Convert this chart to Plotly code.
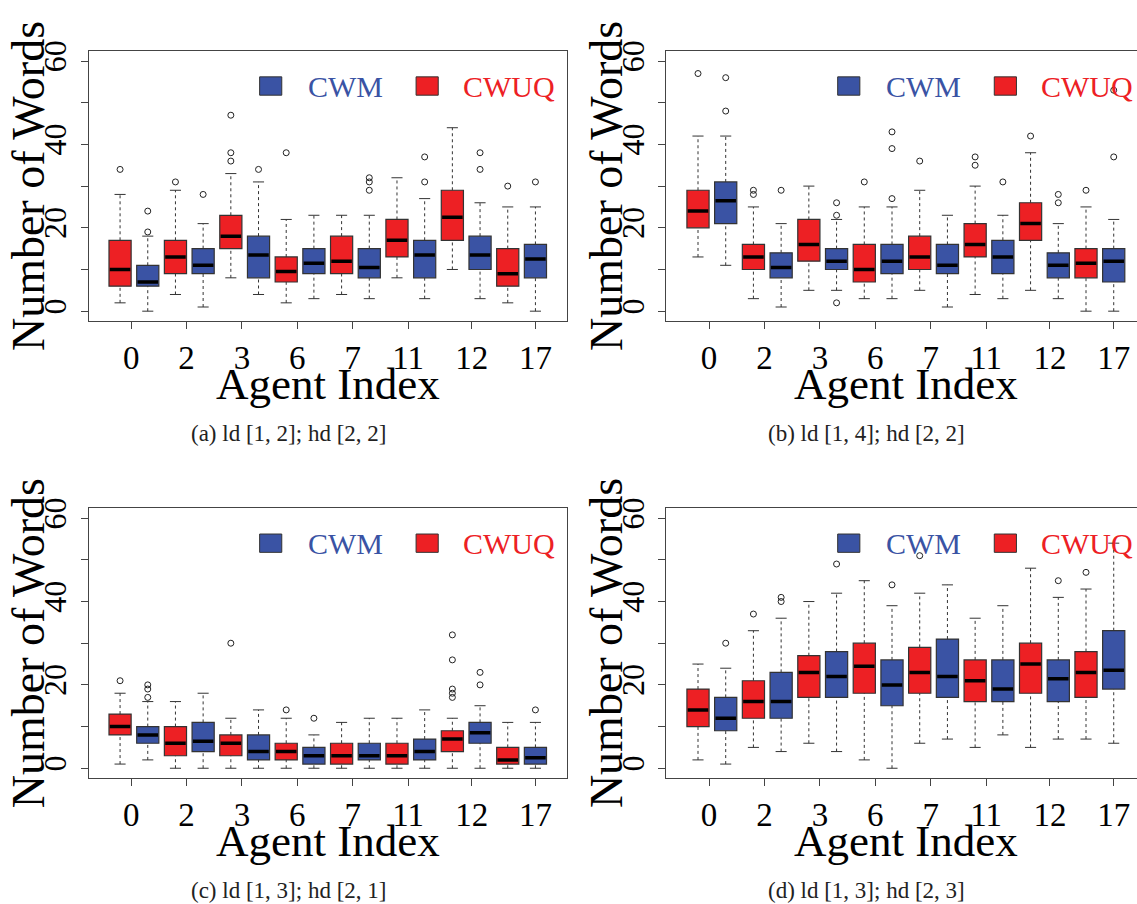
import plotly.graph_objects as go

# ---------------- data ----------------
AGENTS = ["0", "2", "3", "6", "7", "11", "12", "17"]
TICK_POS = [1.4, 3.4, 5.4, 7.4, 9.4, 11.4, 13.7, 16.0]

# (whisker low, Q1, median, Q3, whisker high) per agent
A_CWUQ = [(2, 6, 10, 17, 28), (4, 9, 13, 17, 29), (8, 15, 18, 23, 33), (2, 7, 9.5, 13, 22),
          (4, 9, 12, 18, 23), (8, 13, 17, 22, 32), (10, 17, 22.5, 29, 44), (2, 6, 9, 15, 25)]
A_CWUQ_OUT = [[34], [31], [36, 38, 47], [38], [], [], [], [30]]
A_CWM = [(0, 6, 7, 11, 18), (1, 9, 11, 15, 21), (4, 8, 13.5, 18, 31), (3, 9, 11.5, 15, 23),
         (3, 8, 10.5, 15, 23), (3, 8, 13.5, 17, 27), (3, 10, 13.5, 18, 26), (0, 8, 12.5, 16, 25)]
A_CWM_OUT = [[19, 24], [28], [34], [], [29, 31, 32], [31, 37], [34, 38], [31]]

B_CWUQ = [(13, 20, 24, 29, 42), (3, 10, 13, 16, 25), (5, 12, 16, 22, 30), (3, 7, 10, 16, 25),
          (5, 10, 13, 18, 29), (4, 13, 16, 21, 30), (5, 17, 21, 26, 38), (0, 8, 11.5, 15, 25)]
B_CWUQ_OUT = [[57], [28, 29], [], [31], [36], [35, 37], [42], [29]]
B_CWM = [(11, 21, 26.5, 31, 42), (1, 8, 10.5, 14, 21), (5, 10, 12, 15, 22), (3, 9, 12, 16, 25),
         (1, 9, 11, 16, 23), (3, 9, 13, 17, 23), (3, 8, 11, 14, 21), (0, 7, 12, 15, 22)]
B_CWM_OUT = [[48, 56], [29], [2, 23, 26], [27, 39, 43], [], [31], [26, 28], [37, 53]]

C_CWUQ = [(1, 8, 10, 13, 18), (0, 3, 6, 10, 16), (0, 3, 6, 8, 12), (0, 2, 4, 6, 12),
          (0, 1, 3, 6, 11), (0, 1, 3, 6, 12), (0, 4, 7, 9, 12), (0, 1, 2, 5, 11)]
C_CWUQ_OUT = [[21], [], [30], [14], [], [], [17, 18, 19, 26, 32], []]
C_CWM = [(2, 6, 8, 10, 16), (0, 4, 6.5, 11, 18), (0, 2, 4, 8, 14), (0, 1, 3, 5, 8),
         (0, 2, 3, 6, 12), (0, 2, 4, 7, 14), (0, 6, 8.5, 11, 15), (0, 1, 2.5, 5, 11)]
C_CWM_OUT = [[17, 19, 20], [], [], [12], [], [], [20, 23], [14]]

D_CWUQ = [(2, 10, 14, 19, 25), (5, 12, 16, 21, 33), (6, 17, 23, 27, 40), (2, 18, 24.5, 30, 45),
          (6, 18, 23, 29, 42), (5, 16, 21, 26, 36), (5, 18, 25, 30, 48), (7, 17, 23, 28, 43)]
D_CWUQ_OUT = [[], [37], [], [], [51], [], [], [47]]
D_CWM = [(1, 9, 12, 17, 24), (4, 12, 16, 23, 36), (4, 17, 22, 28, 42), (0, 15, 20, 26, 39),
         (7, 17, 22, 31, 44), (8, 16, 19, 26, 39), (7, 16, 21.5, 26, 41), (6, 19, 23.5, 33, 54)]
D_CWM_OUT = [[30], [40, 41], [49], [44], [], [], [45], []]

CAPTIONS = ["(a) ld [1, 2]; hd [2, 2]", "(b) ld [1, 4]; hd [2, 2]",
            "(c) ld [1, 3]; hd [2, 1]", "(d) ld [1, 3]; hd [2, 3]"]

# ---------------- style ----------------
RED = "#ED2024"
BLUE = "#3A53A4"
EDGE = "#333333"
FONT = "Liberation Serif"
W, H = 1137, 904
BOXW = 0.8

# panel frames in pixels: (left, right, top, bottom)
FRAMES = [(88.5, 567.0, 40.5, 314.0), (666.4, 1137.0, 40.5, 314.0),
          (88.5, 567.0, 503.3, 776.7), (666.4, 1137.0, 503.3, 776.7)]
XRANGES = [[-0.14, 17.14], [-0.14, 16.84], [-0.14, 17.14], [-0.14, 16.84]]
YRANGE = [-2.4, 62.4]

panels = [(A_CWUQ, A_CWUQ_OUT, A_CWM, A_CWM_OUT),
          (B_CWUQ, B_CWUQ_OUT, B_CWM, B_CWM_OUT),
          (C_CWUQ, C_CWUQ_OUT, C_CWM, C_CWM_OUT),
          (D_CWUQ, D_CWUQ_OUT, D_CWM, D_CWM_OUT)]

fig = go.Figure()
annotations = []
shapes = []


def add_series(stats, outs, offset, color, xa, ya):
    pos = [2 * i + 1 + offset for i in range(len(stats))]
    lo = [s[0] for s in stats]
    q1 = [s[1] for s in stats]
    md = [s[2] for s in stats]
    q3 = [s[3] for s in stats]
    hi = [s[4] for s in stats]
    # dashed whiskers
    wx, wy = [], []
    for p, a, b, c, d in zip(pos, lo, q1, q3, hi):
        wx += [p, p, None, p, p, None]
        wy += [a, b, None, c, d, None]
    fig.add_trace(go.Scatter(x=wx, y=wy, mode="lines", xaxis=xa, yaxis=ya,
                             line=dict(color=EDGE, width=1, dash="3px,3px"),
                             hoverinfo="skip", showlegend=False))
    # staples
    sx, sy = [], []
    for p, a, d in zip(pos, lo, hi):
        sx += [p - BOXW / 4, p + BOXW / 4, None, p - BOXW / 4, p + BOXW / 4, None]
        sy += [a, a, None, d, d, None]
    fig.add_trace(go.Scatter(x=sx, y=sy, mode="lines", xaxis=xa, yaxis=ya,
                             line=dict(color=EDGE, width=1),
                             hoverinfo="skip", showlegend=False))
    # boxes
    fig.add_trace(go.Bar(x=pos, base=q1, y=[c - b for b, c in zip(q1, q3)], width=BOXW,
                         marker=dict(color=color, line=dict(color=EDGE, width=1.2)),
                         xaxis=xa, yaxis=ya, showlegend=False))
    # medians
    mx, my = [], []
    for p, m in zip(pos, md):
        mx += [p - BOXW / 2 + 0.03, p + BOXW / 2 - 0.03, None]
        my += [m, m, None]
    fig.add_trace(go.Scatter(x=mx, y=my, mode="lines", xaxis=xa, yaxis=ya,
                             line=dict(color="black", width=3.5),
                             hoverinfo="skip", showlegend=False))
    # outliers
    ox, oy = [], []
    for p, o in zip(pos, outs):
        ox += [p] * len(o)
        oy += list(o)
    fig.add_trace(go.Scatter(x=ox, y=oy, mode="markers", xaxis=xa, yaxis=ya,
                             marker=dict(symbol="circle-open", size=6,
                                         color="#222222", line=dict(width=1)),
                             hoverinfo="skip", showlegend=False))


layout_axes = {}
for k, (cwuq, cwuq_out, cwm, cwm_out) in enumerate(panels):
    n = k + 1
    xa = "x" if n == 1 else f"x{n}"
    ya = "y" if n == 1 else f"y{n}"
    add_series(cwuq, cwuq_out, 0, RED, xa, ya)
    add_series(cwm, cwm_out, 1, BLUE, xa, ya)

    l, r, t, b = FRAMES[k]
    right_visible = r < W - 1
    xkey = "xaxis" if n == 1 else f"xaxis{n}"
    ykey = "yaxis" if n == 1 else f"yaxis{n}"
    layout_axes[xkey] = dict(
        domain=[l / W, r / W], range=XRANGES[k], anchor=ya,
        tickmode="array", tickvals=TICK_POS, ticktext=AGENTS,
        ticks="outside", ticklen=7, tickcolor="#444", tickwidth=1,
        showline=True, linecolor="#444", linewidth=1, mirror=True,
        showgrid=False, zeroline=False, ticklabelstandoff=0,
        tickfont=dict(family=FONT, size=33, color="black"))
    layout_axes[ykey] = dict(
        domain=[1 - b / H, 1 - t / H], range=YRANGE, anchor=xa,
        tickmode="array", tickvals=[0, 10, 20, 30, 40, 50, 60],
        ticktext=["0", "", "20", "", "40", "", "60"], tickangle=-90,
        ticks="outside", ticklen=7, tickcolor="#444", tickwidth=1,
        showline=True, linecolor="#444", linewidth=1, mirror=right_visible,
        showgrid=False, zeroline=False, ticklabelstandoff=2,
        tickfont=dict(family=FONT, size=32, color="black"))

    xref, yref = xa, ya
    # legend (squares + labels)
    for cx, col in ((6.44, BLUE), (12.09, RED)):
        shapes.append(dict(type="rect", xref=xref, yref=yref,
                           x0=cx - BOXW / 2, x1=cx + BOXW / 2, y0=51.8, y1=56.2,
                           fillcolor=col, line=dict(color=EDGE, width=1), layer="above"))
    annotations.append(dict(x=9.13, y=54.0, xref=xref, yref=yref, text="CWM",
                            showarrow=False, xanchor="center", yanchor="middle",
                            font=dict(family=FONT, size=30, color=BLUE)))
    annotations.append(dict(x=15.03, y=54.0, xref=xref, yref=yref, text="CWUQ",
                            showarrow=False, xanchor="center", yanchor="middle",
                            font=dict(family=FONT, size=30, color=RED)))

    # axis titles
    cxp = (l + (l + 478.5)) / 2
    annotations.append(dict(x=cxp / W, y=1 - (b + 63.5) / H, xref="paper", yref="paper",
                            text="Agent Index", showarrow=False, xanchor="center",
                            yanchor="middle", font=dict(family=FONT, size=45, color="black")))
    annotations.append(dict(x=(l - 60.5) / W, y=1 - ((t + b) / 2) / H, xref="paper",
                            yref="paper", text="Number of Words", textangle=-90,
                            showarrow=False, xanchor="center", yanchor="middle",
                            font=dict(family=FONT, size=46, color="black")))
    # caption
    annotations.append(dict(x=(cxp - 39) / W, y=1 - (b + 114) / H, xref="paper",
                            yref="paper", text=CAPTIONS[k], showarrow=False,
                            xanchor="center", yanchor="middle",
                            font=dict(family=FONT, size=23, color="#222")))

fig.update_layout(
    width=W, height=H, margin=dict(l=0, r=0, t=0, b=0),
    paper_bgcolor="white", plot_bgcolor="white",
    barmode="overlay", showlegend=False,
    annotations=annotations, shapes=shapes, **layout_axes)

fig.write_html("out.html", config={"displayModeBar": False},
               post_script="document.body.style.margin='0';document.body.style.overflow='hidden';")
